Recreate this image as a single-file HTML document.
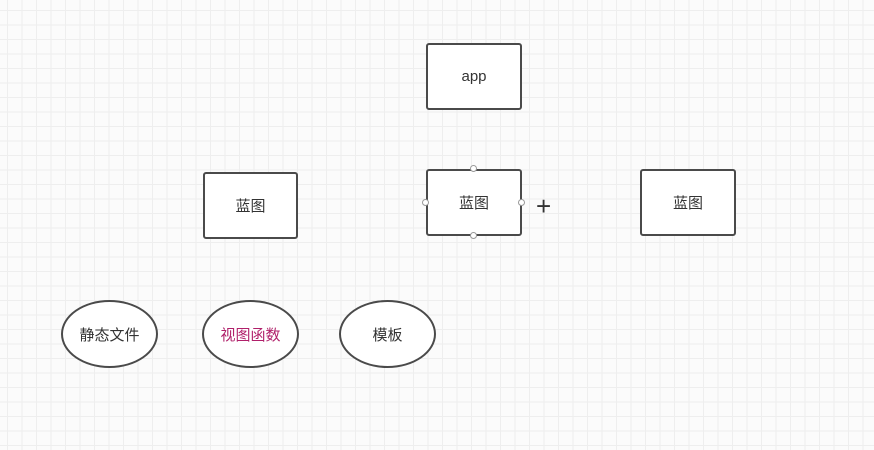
<!DOCTYPE html>
<html><head><meta charset="utf-8"><style>
html,body{margin:0;padding:0}
body{width:874px;height:450px;overflow:hidden;background:#fbfbfb;
background-image:linear-gradient(to right,#eeeeee 1px,transparent 1px),linear-gradient(to bottom,#eeeeee 1px,transparent 1px);
background-size:14.5px 14.5px;background-position:7px 10px;position:relative;
font-family:"Liberation Sans","Noto Sans CJK SC",sans-serif;}
.r{position:absolute;border:2px solid #4a4a4a;border-radius:3px;background:#fff;box-sizing:border-box;display:flex;align-items:center;justify-content:center;font-size:15px;color:#333}
.e{position:absolute;border:2px solid #4a4a4a;border-radius:50%;background:#fff;box-sizing:border-box;display:flex;align-items:center;justify-content:center;font-size:15px;color:#333}
.h{position:absolute;width:7px;height:7px;border:1px solid #999;border-radius:50%;background:#fff;box-sizing:border-box}
</style></head><body>
<div class="r" style="left:426px;top:43px;width:96px;height:67px">app</div>
<div class="r" style="left:203px;top:172px;width:95px;height:67px">蓝图</div>
<div class="r" style="left:426px;top:169px;width:96px;height:67px">蓝图</div>
<div class="h" style="left:470px;top:165px"></div>
<div class="h" style="left:470px;top:232px"></div>
<div class="h" style="left:422px;top:199px"></div>
<div class="h" style="left:518px;top:199px"></div>
<div style="position:absolute;left:536px;top:194px;font-size:26px;color:#333;line-height:24px">+</div>
<div class="r" style="left:640px;top:169px;width:96px;height:67px">蓝图</div>
<div class="e" style="left:61px;top:300px;width:97px;height:68px">静态文件</div>
<div class="e" style="left:202px;top:300px;width:97px;height:68px;color:#b0206a">视图函数</div>
<div class="e" style="left:339px;top:300px;width:97px;height:68px">模板</div>
</body></html>
